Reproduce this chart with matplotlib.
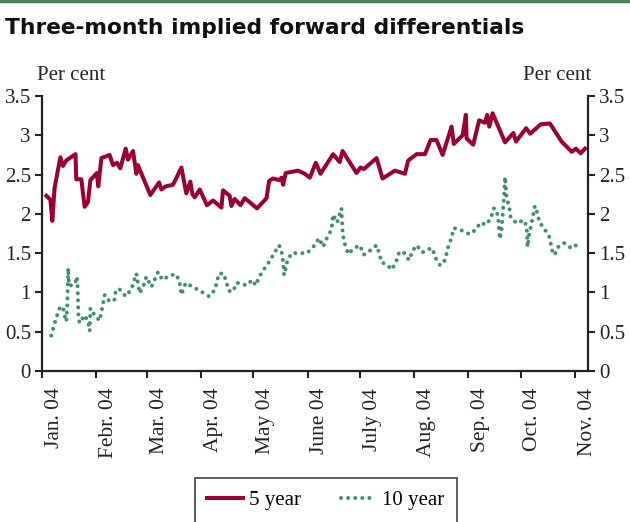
import matplotlib
matplotlib.use("Agg")
import matplotlib.pyplot as plt
import pandas as pd

# days since 1 Jan 2004
days_5y = [2.5, 4.8, 5.9, 7.2, 10.5, 12.0, 13.9, 19.2, 19.6, 22.5,
           24.4, 26.3, 27.7, 31.4, 32.2, 34.0, 38.7, 40.6, 42.9, 44.8,
           47.9, 49.2, 52.1, 54.0, 54.9, 62.0, 67.0, 68.3, 70.8, 75.0,
           79.8, 82.6, 84.9, 86.1, 87.4, 90.3, 94.4, 97.9, 102.7, 103.6,
           107.4, 108.4, 110.3, 113.6, 116.0, 123.1, 128.5, 130.0, 132.2, 135.7,
           137.1, 138.0, 139.5, 146.6, 150.4, 153.3, 156.7, 159.4, 166.6, 170.4,
           172.0, 180.0, 182.3, 184.2, 191.5, 194.9, 202.0, 207.7, 209.6, 214.4,
           219.2, 222.4, 225.8, 229.3, 234.4, 235.7, 240.7, 242.6, 243.0, 246.8,
           250.2, 253.5, 254.8, 256.0, 257.9, 265.0, 269.8, 271.3, 277.1, 279.4,
           285.4, 290.7, 297.4, 303.2, 305.6, 308.3, 310.8]
vals_5y = [2.23, 2.18, 1.91, 2.33, 2.72, 2.61, 2.68, 2.76, 2.44, 2.44,
           2.09, 2.15, 2.43, 2.52, 2.35, 2.71, 2.75, 2.62, 2.65, 2.58,
           2.83, 2.69, 2.80, 2.51, 2.62, 2.24, 2.40, 2.31, 2.35, 2.37,
           2.59, 2.26, 2.41, 2.25, 2.21, 2.31, 2.11, 2.17, 2.08, 2.30,
           2.23, 2.10, 2.19, 2.11, 2.20, 2.07, 2.20, 2.42, 2.45, 2.43,
           2.46, 2.37, 2.52, 2.55, 2.51, 2.46, 2.65, 2.51, 2.76, 2.66,
           2.80, 2.52, 2.59, 2.57, 2.71, 2.45, 2.55, 2.51, 2.68, 2.76,
           2.76, 2.94, 2.94, 2.75, 3.11, 2.89, 3.00, 3.26, 2.96, 2.88,
           3.19, 3.16, 3.26, 3.11, 3.28, 2.91, 3.03, 2.92, 3.09, 3.02,
           3.14, 3.15, 2.92, 2.79, 2.83, 2.77, 2.83]

days_10y = [5.3, 6.6, 8.2, 10.1, 12.0, 12.9, 13.9, 14.5, 15.0, 15.4,
            17.9, 19.2, 20.0, 20.4, 20.8, 21.5, 24.4, 26.3, 27.3, 27.7,
            30.1, 33.0, 34.0, 35.9, 38.8, 41.6, 42.2, 44.4, 47.9, 51.1,
            54.0, 55.9, 58.2, 59.7, 62.6, 66.4, 68.9, 73.5, 76.9, 78.8,
            79.8, 82.2, 86.4, 91.2, 95.6, 98.9, 101.3, 104.0, 107.0, 109.3,
            111.3, 113.2, 117.0, 120.4, 122.3, 124.6, 127.5, 130.3, 133.2, 135.7,
            137.1, 138.0, 138.6, 140.3, 142.8, 147.1, 151.7, 155.6, 158.6, 160.9,
            163.2, 165.7, 166.6, 168.9, 171.4, 172.0, 172.7, 175.2, 178.5, 181.9,
            184.2, 187.6, 191.5, 193.0, 194.4, 197.2, 200.1, 202.5, 204.4, 206.7,
            210.1, 212.1, 214.4, 217.8, 221.0, 223.5, 224.9, 227.7, 229.6, 231.2,
            232.5, 234.4, 235.7, 240.1, 244.9, 248.3, 251.0, 254.1, 256.8, 258.6,
            260.2, 261.3, 261.7, 262.1, 263.1, 263.6, 264.4, 265.0, 265.9, 267.4,
            268.2, 271.6, 275.8, 277.4, 277.7, 277.9, 278.9, 280.2, 282.1, 283.5,
            284.6, 287.8, 290.3, 291.6, 292.5, 293.6, 295.5, 298.7, 303.1, 306.9]
vals_10y = [0.45, 0.56, 0.68, 0.80, 0.82, 0.71, 0.63, 0.85, 1.31, 1.09,
            1.09, 1.14, 1.20, 1.07, 0.73, 0.61, 0.71, 0.63, 0.51, 0.80,
            0.71, 0.64, 0.75, 0.97, 0.88, 0.91, 1.03, 1.04, 0.95, 1.04,
            1.24, 0.99, 1.09, 1.20, 1.07, 1.26, 1.16, 1.22, 1.23, 1.12,
            0.97, 1.12, 1.07, 1.01, 0.95, 1.03, 1.24, 1.24, 1.02, 1.01,
            1.12, 1.12, 1.09, 1.16, 1.09, 1.21, 1.31, 1.40, 1.51, 1.60,
            1.52, 1.39, 1.22, 1.39, 1.50, 1.50, 1.50, 1.59, 1.69, 1.58,
            1.70, 1.80, 1.99, 1.89, 2.07, 1.79, 1.66, 1.49, 1.56, 1.60,
            1.48, 1.53, 1.60, 1.50, 1.38, 1.36, 1.29, 1.38, 1.51, 1.52,
            1.41, 1.53, 1.60, 1.51, 1.55, 1.56, 1.45, 1.35, 1.36, 1.46,
            1.58, 1.70, 1.82, 1.79, 1.74, 1.80, 1.89, 1.86, 1.94, 2.07,
            2.05, 1.90, 1.79, 1.68, 1.82, 1.96, 2.20, 2.47, 2.21, 2.09,
            1.96, 1.88, 1.92, 1.84, 1.69, 1.58, 1.75, 1.88, 2.10, 2.01,
            1.90, 1.80, 1.71, 1.58, 1.48, 1.49, 1.58, 1.63, 1.56, 1.62]

month_labels = ["Jan. 04", "Febr. 04", "Mar. 04", "Apr. 04", "May 04", "June 04",
                "July 04", "Aug. 04", "Sep. 04", "Oct. 04", "Nov. 04"]
y_ticks = [0, 0.5, 1, 1.5, 2, 2.5, 3, 3.5]
y_labels = ["0", "0.5", "1", "1.5", "2", "2.5", "3", "3.5"]

RED = "#9b0033"
GREEN = "#3f8f6f"
INK = "#222222"
SERIF = ["Liberation Serif", "DejaVu Serif"]
FS = 15

base = pd.Timestamp("2004-01-01")
dates_5y = base + pd.to_timedelta(days_5y, unit="D")
dates_10y = base + pd.to_timedelta(days_10y, unit="D")
month_starts = pd.date_range("2004-01-01", periods=len(month_labels), freq="MS")
# labels sit a little to the right of the month ticks
label_pos = month_starts + pd.Timedelta(days=7)

fig = plt.figure(figsize=(6.3, 5.22), dpi=100)
ax = fig.add_axes([42 / 630, 1 - 371 / 522, 546 / 630, 275 / 522])

ax.plot(dates_5y, vals_5y, color=RED, lw=2.9, label="5 year")
ax.plot(dates_10y, vals_10y, color=GREEN, lw=2.9, linestyle=(0, (0.01, 1.75)),
        dash_capstyle="round", label="10 year")

ax.set_ylim(0, 3.5)
ax.set_xlim(base, base + pd.Timedelta(days=312.5))
ax.set_yticks(y_ticks)
ax.set_yticklabels(y_labels)
ax.set_xticks(month_starts)
ax.set_xticklabels([])
ax.set_xticks(label_pos, minor=True)
ax.set_xticklabels(month_labels, minor=True, rotation=90, va="top", ha="center",
                   fontfamily=SERIF, fontsize=15.5, color=INK)
ax.tick_params(axis="x", which="minor", length=0, pad=12)

ax.tick_params(axis="both", which="major", direction="out", length=5, width=1.5,
               color=INK, labelcolor=INK, pad=3)
ax.tick_params(axis="y", right=True, labelright=True, labelsize=FS)
for t in ax.yaxis.get_major_ticks():
    t.label1.set_fontfamily(SERIF)
    t.label2.set_fontfamily(SERIF)
for sp in ["left", "right", "bottom"]:
    ax.spines[sp].set_linewidth(1.6)
    ax.spines[sp].set_color(INK)
ax.spines["top"].set_visible(False)
ax.patch.set_alpha(0)

fig.text(37 / 630, 1 - 76 / 522, "Per cent", family=SERIF, fontsize=FS,
         color=INK, va="center", ha="left")
fig.text(591 / 630, 1 - 76 / 522, "Per cent", family=SERIF, fontsize=FS,
         color=INK, va="center", ha="right")

fig.text(5 / 630, 1 - 28 / 522, "Three-month implied forward differentials",
         fontsize=15.7, fontweight="bold", color="#111111", va="center", ha="left")
fig.add_artist(plt.Line2D([0, 1], [1 - 1 / 522, 1 - 1 / 522], color="#4e7f5a",
                          lw=2.5, transform=fig.transFigure))

leg = fig.legend(loc="upper center", bbox_to_anchor=(326 / 630, 1 - 478 / 522), ncol=2,
                 frameon=True, fancybox=False, edgecolor="#111111", borderpad=0.6,
                 borderaxespad=0, handlelength=1.7, handletextpad=0.3,
                 columnspacing=1.9, prop={"family": SERIF, "size": FS})
leg.get_frame().set_linewidth(1.2)

fig.savefig("out.png", dpi=100)
